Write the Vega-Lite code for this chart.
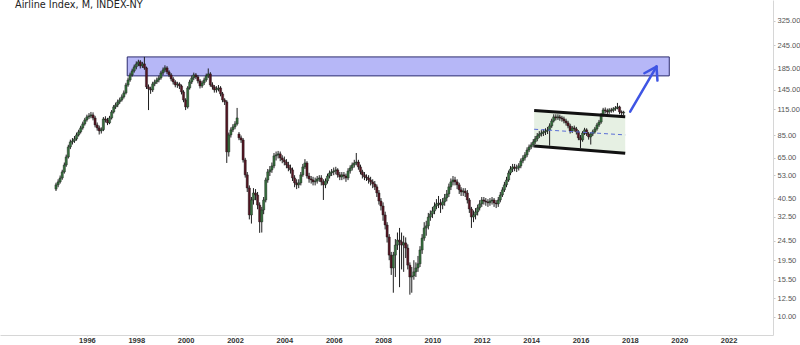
{
  "$schema": "https://vega.github.io/schema/vega-lite/v6.json",
  "width": 773,
  "height": 335,
  "autosize": {"type": "none"},
  "padding": {"left": 0, "top": 0, "right": 27, "bottom": 10},
  "background": "#ffffff",
  "view": {"stroke": null},
  "title": {"text": "Airline Index, M, INDEX-NY", "anchor": "start", "frame": "group", "offset": -10, "dx": 15, "font": "DejaVu Sans", "fontSize": 9.7, "fontWeight": "normal", "color": "#222222"},
  "config": {
    "axis": {"grid": false, "title": null, "domainColor": "#d6d6d6", "tickColor": "#c8c8c8", "labelFont": "Liberation Sans"}
  },
  "datasets": {
    "zone": [{"x1": "1997-08-20", "x2": "2019-08-07", "y1": 170.4, "y2": 213.0}],
    "channel": [{"t": "2014-02-14", "lo": 74.8, "hi": 113.3}, {"t": "2017-10-24", "lo": 68.6, "hi": 105.5}],
    "segments": [
      {"seg": "top", "xa": "2014-02-14", "xb": "2017-10-24", "ya": 113.3, "yb": 105.5},
      {"seg": "bottom", "xa": "2014-02-14", "xb": "2017-10-24", "ya": 74.8, "yb": 68.6},
      {"seg": "mid", "xa": "2014-02-14", "xb": "2017-10-24", "ya": 91.0, "yb": 85.1},
      {"seg": "arrow", "xa": "2018-01-05", "xb": "2019-01-30", "ya": 111.9, "yb": 190.1},
      {"seg": "arrow", "xa": "2019-01-30", "xb": "2018-08-03", "ya": 190.1, "yb": 175.8},
      {"seg": "arrow", "xa": "2019-01-30", "xb": "2019-02-13", "ya": 190.1, "yb": 161.2}
    ],
    "candles": [
      {"t":"1994-10-01","o":45.0,"h":48.5,"l":44.0,"c":47.3},
      {"t":"1994-11-01","o":47.3,"h":50.5,"l":46.0,"c":49.0},
      {"t":"1994-12-01","o":49.0,"h":52.8,"l":48.0,"c":51.3},
      {"t":"1995-01-01","o":51.3,"h":56.5,"l":50.2,"c":55.1},
      {"t":"1995-02-01","o":55.1,"h":61.5,"l":54.0,"c":59.8},
      {"t":"1995-03-01","o":59.8,"h":67.5,"l":58.5,"c":65.7},
      {"t":"1995-04-01","o":65.7,"h":75.8,"l":64.5,"c":73.9},
      {"t":"1995-05-01","o":73.9,"h":80.5,"l":72.0,"c":78.4},
      {"t":"1995-06-01","o":78.4,"h":82.0,"l":76.0,"c":79.3},
      {"t":"1995-07-01","o":79.3,"h":84.0,"l":77.5,"c":81.2},
      {"t":"1995-08-01","o":81.2,"h":87.5,"l":79.5,"c":85.1},
      {"t":"1995-09-01","o":85.1,"h":90.5,"l":83.5,"c":88.2},
      {"t":"1995-10-01","o":88.2,"h":94.8,"l":86.5,"c":92.4},
      {"t":"1995-11-01","o":92.4,"h":99.5,"l":90.5,"c":96.9},
      {"t":"1995-12-01","o":96.9,"h":104.0,"l":95.0,"c":101.5},
      {"t":"1996-01-01","o":101.5,"h":108.0,"l":99.5,"c":105.2},
      {"t":"1996-02-01","o":105.2,"h":110.0,"l":102.5,"c":106.4},
      {"t":"1996-03-01","o":106.4,"h":111.5,"l":103.5,"c":107.7},
      {"t":"1996-04-01","o":107.7,"h":111.0,"l":101.0,"c":103.9},
      {"t":"1996-05-01","o":103.9,"h":106.5,"l":93.0,"c":95.7},
      {"t":"1996-06-01","o":95.7,"h":98.5,"l":89.5,"c":92.4},
      {"t":"1996-07-01","o":92.4,"h":95.0,"l":85.5,"c":89.2},
      {"t":"1996-08-01","o":89.2,"h":93.0,"l":86.5,"c":90.5},
      {"t":"1996-09-01","o":90.5,"h":105.0,"l":89.0,"c":102.7},
      {"t":"1996-10-01","o":102.7,"h":106.0,"l":98.5,"c":101.5},
      {"t":"1996-11-01","o":101.5,"h":104.0,"l":95.5,"c":98.0},
      {"t":"1996-12-01","o":98.0,"h":106.5,"l":96.5,"c":103.9},
      {"t":"1997-01-01","o":103.9,"h":114.0,"l":102.0,"c":111.5},
      {"t":"1997-02-01","o":111.5,"h":121.0,"l":109.5,"c":118.3},
      {"t":"1997-03-01","o":118.3,"h":124.5,"l":115.5,"c":121.1},
      {"t":"1997-04-01","o":121.1,"h":129.0,"l":118.0,"c":125.5},
      {"t":"1997-05-01","o":125.5,"h":132.0,"l":122.5,"c":128.4},
      {"t":"1997-06-01","o":128.4,"h":137.0,"l":126.0,"c":133.1},
      {"t":"1997-07-01","o":133.1,"h":143.5,"l":130.5,"c":139.5},
      {"t":"1997-08-01","o":139.5,"h":157.0,"l":137.0,"c":153.2},
      {"t":"1997-09-01","o":153.2,"h":167.0,"l":150.0,"c":162.5},
      {"t":"1997-10-01","o":162.5,"h":177.0,"l":159.0,"c":172.4},
      {"t":"1997-11-01","o":172.4,"h":185.5,"l":169.0,"c":180.7},
      {"t":"1997-12-01","o":180.7,"h":194.5,"l":177.0,"c":189.4},
      {"t":"1998-01-01","o":189.4,"h":202.0,"l":184.0,"c":196.2},
      {"t":"1998-02-01","o":196.2,"h":206.0,"l":191.0,"c":200.9},
      {"t":"1998-03-01","o":200.9,"h":205.0,"l":186.0,"c":191.6},
      {"t":"1998-04-01","o":191.6,"h":201.0,"l":187.0,"c":196.2},
      {"t":"1998-05-01","o":196.2,"h":213.0,"l":183.0,"c":187.2},
      {"t":"1998-06-01","o":187.2,"h":190.0,"l":146.0,"c":149.7},
      {"t":"1998-07-01","o":149.7,"h":154.0,"l":114.0,"c":146.2},
      {"t":"1998-08-01","o":146.2,"h":150.0,"l":138.0,"c":144.5},
      {"t":"1998-09-01","o":144.5,"h":159.0,"l":141.0,"c":155.1},
      {"t":"1998-10-01","o":155.1,"h":163.0,"l":151.0,"c":158.7},
      {"t":"1998-11-01","o":158.7,"h":167.0,"l":155.0,"c":162.5},
      {"t":"1998-12-01","o":162.5,"h":171.0,"l":158.0,"c":166.4},
      {"t":"1999-01-01","o":166.4,"h":181.0,"l":163.0,"c":176.5},
      {"t":"1999-02-01","o":176.5,"h":188.0,"l":172.0,"c":182.8},
      {"t":"1999-03-01","o":182.8,"h":193.0,"l":178.0,"c":187.2},
      {"t":"1999-04-01","o":187.2,"h":191.0,"l":174.0,"c":178.6},
      {"t":"1999-05-01","o":178.6,"h":182.0,"l":168.0,"c":172.4},
      {"t":"1999-06-01","o":172.4,"h":176.0,"l":160.0,"c":164.4},
      {"t":"1999-07-01","o":164.4,"h":168.0,"l":154.0,"c":158.7},
      {"t":"1999-08-01","o":158.7,"h":162.0,"l":149.0,"c":153.2},
      {"t":"1999-09-01","o":153.2,"h":159.0,"l":148.0,"c":155.0},
      {"t":"1999-10-01","o":155.0,"h":158.0,"l":146.0,"c":151.4},
      {"t":"1999-11-01","o":151.4,"h":154.0,"l":137.0,"c":141.1},
      {"t":"1999-12-01","o":141.1,"h":144.0,"l":125.0,"c":128.4},
      {"t":"2000-01-01","o":128.4,"h":131.0,"l":114.0,"c":118.3},
      {"t":"2000-02-01","o":118.3,"h":151.0,"l":116.0,"c":147.9},
      {"t":"2000-03-01","o":147.9,"h":163.0,"l":145.0,"c":158.7},
      {"t":"2000-04-01","o":158.7,"h":171.0,"l":155.0,"c":166.4},
      {"t":"2000-05-01","o":166.4,"h":177.0,"l":162.0,"c":172.4},
      {"t":"2000-06-01","o":172.4,"h":176.0,"l":164.0,"c":168.4},
      {"t":"2000-07-01","o":168.4,"h":172.0,"l":156.0,"c":160.6},
      {"t":"2000-08-01","o":160.6,"h":164.0,"l":147.0,"c":151.4},
      {"t":"2000-09-01","o":151.4,"h":161.0,"l":148.0,"c":156.9},
      {"t":"2000-10-01","o":156.9,"h":167.0,"l":153.0,"c":162.5},
      {"t":"2000-11-01","o":162.5,"h":175.0,"l":159.0,"c":170.4},
      {"t":"2000-12-01","o":170.4,"h":186.0,"l":166.0,"c":174.4},
      {"t":"2001-01-01","o":174.4,"h":178.0,"l":150.0,"c":153.2},
      {"t":"2001-02-01","o":153.2,"h":158.0,"l":145.0,"c":149.7},
      {"t":"2001-03-01","o":149.7,"h":153.0,"l":140.0,"c":144.5},
      {"t":"2001-04-01","o":144.5,"h":151.0,"l":140.0,"c":146.2},
      {"t":"2001-05-01","o":146.2,"h":153.0,"l":142.0,"c":147.9},
      {"t":"2001-06-01","o":147.9,"h":151.0,"l":134.0,"c":137.9},
      {"t":"2001-07-01","o":137.9,"h":141.0,"l":125.0,"c":128.4},
      {"t":"2001-08-01","o":128.4,"h":131.0,"l":121.0,"c":125.5},
      {"t":"2001-09-01","o":125.5,"h":128.0,"l":61.2,"c":69.7},
      {"t":"2001-10-01","o":69.7,"h":87.5,"l":66.0,"c":85.1},
      {"t":"2001-11-01","o":85.1,"h":93.0,"l":82.5,"c":90.3},
      {"t":"2001-12-01","o":90.3,"h":96.5,"l":88.0,"c":93.5},
      {"t":"2002-01-01","o":93.5,"h":100.0,"l":91.0,"c":96.9},
      {"t":"2002-02-01","o":96.9,"h":116.9,"l":95.0,"c":103.9},
      {"t":"2002-03-01","o":86.0,"h":88.0,"l":80.0,"c":82.2},
      {"t":"2002-04-01","o":82.2,"h":84.5,"l":77.5,"c":80.2},
      {"t":"2002-05-01","o":80.2,"h":82.0,"l":61.5,"c":63.4},
      {"t":"2002-06-01","o":63.4,"h":65.0,"l":51.5,"c":53.2},
      {"t":"2002-07-01","o":53.2,"h":55.0,"l":43.5,"c":45.6},
      {"t":"2002-08-01","o":45.6,"h":47.0,"l":31.5,"c":33.2},
      {"t":"2002-09-01","o":33.2,"h":41.0,"l":30.0,"c":39.6},
      {"t":"2002-10-01","o":39.6,"h":45.5,"l":37.5,"c":43.0},
      {"t":"2002-11-01","o":43.0,"h":45.0,"l":39.5,"c":42.0},
      {"t":"2002-12-01","o":42.0,"h":43.5,"l":35.5,"c":37.3},
      {"t":"2003-01-01","o":37.3,"h":38.5,"l":26.9,"c":30.6},
      {"t":"2003-02-01","o":30.6,"h":36.5,"l":27.0,"c":35.2},
      {"t":"2003-03-01","o":35.2,"h":41.0,"l":33.5,"c":39.6},
      {"t":"2003-04-01","o":39.6,"h":51.5,"l":38.5,"c":50.1},
      {"t":"2003-05-01","o":50.1,"h":57.0,"l":48.5,"c":55.1},
      {"t":"2003-06-01","o":55.1,"h":59.0,"l":52.5,"c":56.4},
      {"t":"2003-07-01","o":56.4,"h":61.5,"l":54.5,"c":59.1},
      {"t":"2003-08-01","o":59.1,"h":68.8,"l":57.5,"c":66.5},
      {"t":"2003-09-01","o":66.5,"h":70.0,"l":63.0,"c":67.3},
      {"t":"2003-10-01","o":67.3,"h":70.5,"l":64.5,"c":68.1},
      {"t":"2003-11-01","o":68.1,"h":70.0,"l":62.5,"c":64.9},
      {"t":"2003-12-01","o":64.9,"h":67.0,"l":61.0,"c":63.4},
      {"t":"2004-01-01","o":63.4,"h":66.0,"l":59.5,"c":61.9},
      {"t":"2004-02-01","o":61.9,"h":64.0,"l":57.5,"c":59.8},
      {"t":"2004-03-01","o":59.8,"h":62.0,"l":55.5,"c":57.7},
      {"t":"2004-04-01","o":57.7,"h":60.0,"l":54.0,"c":56.4},
      {"t":"2004-05-01","o":56.4,"h":58.0,"l":49.5,"c":51.3},
      {"t":"2004-06-01","o":51.3,"h":53.0,"l":46.0,"c":48.4},
      {"t":"2004-07-01","o":48.4,"h":50.5,"l":45.0,"c":47.3},
      {"t":"2004-08-01","o":47.3,"h":50.5,"l":45.5,"c":48.4},
      {"t":"2004-09-01","o":48.4,"h":55.0,"l":47.0,"c":53.2},
      {"t":"2004-10-01","o":53.2,"h":60.5,"l":52.0,"c":58.4},
      {"t":"2004-11-01","o":58.4,"h":64.0,"l":57.0,"c":61.2},
      {"t":"2004-12-01","o":61.2,"h":62.5,"l":51.0,"c":52.5},
      {"t":"2005-01-01","o":52.5,"h":54.5,"l":48.5,"c":50.7},
      {"t":"2005-02-01","o":50.7,"h":52.5,"l":48.0,"c":50.1},
      {"t":"2005-03-01","o":50.1,"h":52.0,"l":47.0,"c":49.0},
      {"t":"2005-04-01","o":49.0,"h":51.5,"l":47.0,"c":49.5},
      {"t":"2005-05-01","o":49.5,"h":52.5,"l":48.0,"c":50.7},
      {"t":"2005-06-01","o":50.7,"h":53.0,"l":49.0,"c":51.3},
      {"t":"2005-07-01","o":51.3,"h":53.0,"l":47.0,"c":49.0},
      {"t":"2005-08-01","o":49.0,"h":50.5,"l":39.6,"c":47.3},
      {"t":"2005-09-01","o":47.3,"h":51.0,"l":45.5,"c":49.5},
      {"t":"2005-10-01","o":49.5,"h":54.0,"l":48.0,"c":52.5},
      {"t":"2005-11-01","o":52.5,"h":56.0,"l":51.0,"c":54.4},
      {"t":"2005-12-01","o":54.4,"h":57.0,"l":52.5,"c":55.1},
      {"t":"2006-01-01","o":55.1,"h":58.0,"l":53.0,"c":55.7},
      {"t":"2006-02-01","o":55.7,"h":58.5,"l":53.5,"c":56.4},
      {"t":"2006-03-01","o":56.4,"h":57.5,"l":51.5,"c":53.2},
      {"t":"2006-04-01","o":53.2,"h":55.0,"l":50.0,"c":51.9},
      {"t":"2006-05-01","o":51.9,"h":55.0,"l":50.0,"c":53.2},
      {"t":"2006-06-01","o":53.2,"h":55.0,"l":50.5,"c":52.5},
      {"t":"2006-07-01","o":52.5,"h":54.0,"l":49.0,"c":51.3},
      {"t":"2006-08-01","o":51.3,"h":57.5,"l":50.0,"c":55.7},
      {"t":"2006-09-01","o":55.7,"h":59.5,"l":54.0,"c":57.7},
      {"t":"2006-10-01","o":57.7,"h":61.5,"l":56.0,"c":59.8},
      {"t":"2006-11-01","o":59.8,"h":63.5,"l":58.0,"c":61.2},
      {"t":"2006-12-01","o":61.2,"h":68.8,"l":59.5,"c":61.9},
      {"t":"2007-01-01","o":61.9,"h":63.5,"l":56.5,"c":58.4},
      {"t":"2007-02-01","o":58.4,"h":60.0,"l":53.5,"c":55.1},
      {"t":"2007-03-01","o":55.1,"h":56.5,"l":51.0,"c":53.2},
      {"t":"2007-04-01","o":53.2,"h":55.0,"l":50.0,"c":51.9},
      {"t":"2007-05-01","o":51.9,"h":53.5,"l":49.5,"c":51.3},
      {"t":"2007-06-01","o":51.3,"h":53.0,"l":48.0,"c":50.1},
      {"t":"2007-07-01","o":50.1,"h":52.0,"l":47.0,"c":49.0},
      {"t":"2007-08-01","o":49.0,"h":50.5,"l":45.5,"c":47.8},
      {"t":"2007-09-01","o":47.8,"h":49.5,"l":44.5,"c":46.2},
      {"t":"2007-10-01","o":46.2,"h":47.5,"l":41.0,"c":43.0},
      {"t":"2007-11-01","o":43.0,"h":44.5,"l":37.5,"c":39.1},
      {"t":"2007-12-01","o":39.1,"h":40.5,"l":35.0,"c":36.9},
      {"t":"2008-01-01","o":36.9,"h":38.5,"l":31.0,"c":33.2},
      {"t":"2008-02-01","o":33.2,"h":34.5,"l":28.0,"c":29.5},
      {"t":"2008-03-01","o":29.5,"h":30.5,"l":24.0,"c":25.6},
      {"t":"2008-04-01","o":25.6,"h":26.5,"l":19.5,"c":20.7},
      {"t":"2008-05-01","o":20.7,"h":21.5,"l":16.4,"c":17.8},
      {"t":"2008-06-01","o":17.8,"h":21.5,"l":13.3,"c":20.7},
      {"t":"2008-07-01","o":20.7,"h":25.0,"l":16.0,"c":23.3},
      {"t":"2008-08-01","o":23.3,"h":27.0,"l":22.0,"c":24.7},
      {"t":"2008-09-01","o":24.7,"h":28.5,"l":14.2,"c":24.2},
      {"t":"2008-10-01","o":24.2,"h":27.0,"l":17.5,"c":23.3},
      {"t":"2008-11-01","o":23.3,"h":26.0,"l":17.0,"c":23.9},
      {"t":"2008-12-01","o":23.9,"h":25.5,"l":20.0,"c":22.5},
      {"t":"2009-01-01","o":22.5,"h":23.5,"l":17.5,"c":18.4},
      {"t":"2009-02-01","o":18.4,"h":19.0,"l":13.0,"c":16.0},
      {"t":"2009-03-01","o":16.0,"h":18.0,"l":13.3,"c":16.2},
      {"t":"2009-04-01","o":16.2,"h":19.5,"l":15.5,"c":17.0},
      {"t":"2009-05-01","o":17.0,"h":19.0,"l":16.0,"c":17.8},
      {"t":"2009-06-01","o":17.8,"h":20.5,"l":17.0,"c":18.7},
      {"t":"2009-07-01","o":18.7,"h":23.0,"l":18.0,"c":22.0},
      {"t":"2009-08-01","o":22.0,"h":26.5,"l":21.0,"c":25.3},
      {"t":"2009-09-01","o":25.3,"h":30.5,"l":24.5,"c":28.5},
      {"t":"2009-10-01","o":28.5,"h":31.0,"l":26.0,"c":29.2},
      {"t":"2009-11-01","o":29.2,"h":34.0,"l":28.0,"c":32.4},
      {"t":"2009-12-01","o":32.4,"h":35.0,"l":31.0,"c":33.6},
      {"t":"2010-01-01","o":33.6,"h":36.5,"l":32.0,"c":34.8},
      {"t":"2010-02-01","o":34.8,"h":38.5,"l":33.5,"c":36.9},
      {"t":"2010-03-01","o":36.9,"h":40.0,"l":35.5,"c":37.8},
      {"t":"2010-04-01","o":37.8,"h":41.5,"l":36.0,"c":38.2},
      {"t":"2010-05-01","o":38.2,"h":40.0,"l":34.0,"c":37.3},
      {"t":"2010-06-01","o":37.3,"h":40.5,"l":35.5,"c":38.7},
      {"t":"2010-07-01","o":38.7,"h":42.5,"l":37.0,"c":40.6},
      {"t":"2010-08-01","o":40.6,"h":44.5,"l":39.0,"c":42.5},
      {"t":"2010-09-01","o":42.5,"h":48.0,"l":41.0,"c":46.2},
      {"t":"2010-10-01","o":46.2,"h":51.0,"l":44.5,"c":49.0},
      {"t":"2010-11-01","o":49.0,"h":52.5,"l":47.0,"c":50.1},
      {"t":"2010-12-01","o":50.1,"h":52.0,"l":47.0,"c":49.0},
      {"t":"2011-01-01","o":49.0,"h":50.5,"l":45.0,"c":47.3},
      {"t":"2011-02-01","o":47.3,"h":48.5,"l":42.5,"c":44.6},
      {"t":"2011-03-01","o":44.6,"h":46.0,"l":41.5,"c":43.5},
      {"t":"2011-04-01","o":43.5,"h":45.5,"l":41.5,"c":44.0},
      {"t":"2011-05-01","o":44.0,"h":45.5,"l":41.0,"c":43.0},
      {"t":"2011-06-01","o":43.0,"h":44.5,"l":38.0,"c":39.6},
      {"t":"2011-07-01","o":39.6,"h":40.5,"l":34.0,"c":35.6},
      {"t":"2011-08-01","o":35.6,"h":36.5,"l":28.5,"c":32.4},
      {"t":"2011-09-01","o":32.4,"h":35.0,"l":30.5,"c":33.2},
      {"t":"2011-10-01","o":33.2,"h":36.0,"l":31.5,"c":34.4},
      {"t":"2011-11-01","o":34.4,"h":37.5,"l":33.0,"c":36.1},
      {"t":"2011-12-01","o":36.1,"h":39.5,"l":35.0,"c":37.8},
      {"t":"2012-01-01","o":37.8,"h":41.0,"l":36.5,"c":39.6},
      {"t":"2012-02-01","o":39.6,"h":41.0,"l":37.5,"c":39.1},
      {"t":"2012-03-01","o":39.1,"h":40.5,"l":37.0,"c":38.7},
      {"t":"2012-04-01","o":38.7,"h":40.0,"l":36.5,"c":38.3},
      {"t":"2012-05-01","o":38.3,"h":40.5,"l":37.0,"c":39.1},
      {"t":"2012-06-01","o":39.1,"h":41.0,"l":37.5,"c":39.6},
      {"t":"2012-07-01","o":39.6,"h":40.5,"l":36.5,"c":38.2},
      {"t":"2012-08-01","o":38.2,"h":39.5,"l":36.0,"c":37.8},
      {"t":"2012-09-01","o":37.8,"h":41.0,"l":36.5,"c":39.6},
      {"t":"2012-10-01","o":39.6,"h":43.5,"l":38.5,"c":42.0},
      {"t":"2012-11-01","o":42.0,"h":46.0,"l":41.0,"c":44.6},
      {"t":"2012-12-01","o":44.6,"h":49.0,"l":43.5,"c":47.3},
      {"t":"2013-01-01","o":47.3,"h":52.0,"l":46.0,"c":50.1},
      {"t":"2013-02-01","o":50.1,"h":56.0,"l":49.0,"c":54.4},
      {"t":"2013-03-01","o":54.4,"h":59.0,"l":53.0,"c":57.0},
      {"t":"2013-04-01","o":57.0,"h":60.5,"l":55.0,"c":58.4},
      {"t":"2013-05-01","o":58.4,"h":60.5,"l":55.5,"c":57.5},
      {"t":"2013-06-01","o":57.5,"h":60.0,"l":55.0,"c":57.7},
      {"t":"2013-07-01","o":57.7,"h":61.0,"l":56.0,"c":59.1},
      {"t":"2013-08-01","o":59.1,"h":64.5,"l":57.5,"c":62.7},
      {"t":"2013-09-01","o":62.7,"h":67.0,"l":61.0,"c":64.9},
      {"t":"2013-10-01","o":64.9,"h":69.5,"l":63.0,"c":67.3},
      {"t":"2013-11-01","o":67.3,"h":73.5,"l":65.5,"c":71.3},
      {"t":"2013-12-01","o":71.3,"h":76.0,"l":69.5,"c":73.9},
      {"t":"2014-01-01","o":73.9,"h":78.0,"l":72.0,"c":75.7},
      {"t":"2014-02-01","o":75.7,"h":81.0,"l":73.5,"c":78.4},
      {"t":"2014-03-01","o":78.4,"h":84.0,"l":76.5,"c":81.2},
      {"t":"2014-04-01","o":81.2,"h":87.0,"l":79.0,"c":84.1},
      {"t":"2014-05-01","o":84.1,"h":89.0,"l":82.0,"c":86.1},
      {"t":"2014-06-01","o":86.1,"h":90.0,"l":83.5,"c":87.1},
      {"t":"2014-07-01","o":87.1,"h":91.0,"l":84.0,"c":88.2},
      {"t":"2014-08-01","o":88.2,"h":92.0,"l":85.0,"c":89.2},
      {"t":"2014-09-01","o":89.2,"h":93.5,"l":86.0,"c":90.3},
      {"t":"2014-10-01","o":90.3,"h":97.5,"l":75.0,"c":94.6},
      {"t":"2014-11-01","o":94.6,"h":103.0,"l":92.5,"c":100.3},
      {"t":"2014-12-01","o":100.3,"h":108.5,"l":98.5,"c":105.2},
      {"t":"2015-01-01","o":105.2,"h":108.5,"l":101.0,"c":104.0},
      {"t":"2015-02-01","o":104.0,"h":108.5,"l":101.5,"c":105.2},
      {"t":"2015-03-01","o":105.2,"h":108.0,"l":100.5,"c":103.9},
      {"t":"2015-04-01","o":103.9,"h":106.5,"l":99.5,"c":102.7},
      {"t":"2015-05-01","o":102.7,"h":105.5,"l":97.5,"c":100.3},
      {"t":"2015-06-01","o":100.3,"h":103.0,"l":95.0,"c":98.0},
      {"t":"2015-07-01","o":98.0,"h":100.5,"l":92.0,"c":94.6},
      {"t":"2015-08-01","o":94.6,"h":97.0,"l":86.5,"c":89.2},
      {"t":"2015-09-01","o":89.2,"h":94.5,"l":87.0,"c":92.4},
      {"t":"2015-10-01","o":92.4,"h":95.0,"l":88.5,"c":91.3},
      {"t":"2015-11-01","o":91.3,"h":93.5,"l":85.5,"c":88.2},
      {"t":"2015-12-01","o":88.2,"h":90.0,"l":80.0,"c":82.2},
      {"t":"2016-01-01","o":82.2,"h":85.0,"l":73.0,"c":80.2},
      {"t":"2016-02-01","o":80.2,"h":89.0,"l":78.5,"c":87.1},
      {"t":"2016-03-01","o":87.1,"h":92.5,"l":85.0,"c":90.3},
      {"t":"2016-04-01","o":90.3,"h":92.0,"l":84.0,"c":86.1},
      {"t":"2016-05-01","o":86.1,"h":88.0,"l":80.5,"c":83.1},
      {"t":"2016-06-01","o":83.1,"h":88.0,"l":76.0,"c":86.1},
      {"t":"2016-07-01","o":86.1,"h":90.5,"l":84.0,"c":88.2},
      {"t":"2016-08-01","o":88.2,"h":93.5,"l":86.5,"c":91.3},
      {"t":"2016-09-01","o":91.3,"h":98.0,"l":89.5,"c":95.7},
      {"t":"2016-10-01","o":95.7,"h":101.5,"l":93.5,"c":99.0},
      {"t":"2016-11-01","o":99.0,"h":110.0,"l":97.0,"c":107.7},
      {"t":"2016-12-01","o":107.7,"h":117.0,"l":105.5,"c":114.2},
      {"t":"2017-01-01","o":114.2,"h":117.5,"l":109.5,"c":112.9},
      {"t":"2017-02-01","o":112.9,"h":116.0,"l":108.5,"c":111.5},
      {"t":"2017-03-01","o":111.5,"h":116.5,"l":109.0,"c":114.2},
      {"t":"2017-04-01","o":114.2,"h":117.0,"l":110.5,"c":113.5},
      {"t":"2017-05-01","o":113.5,"h":118.0,"l":111.0,"c":115.6},
      {"t":"2017-06-01","o":115.6,"h":119.5,"l":113.0,"c":116.9},
      {"t":"2017-07-01","o":116.9,"h":124.0,"l":115.0,"c":118.3},
      {"t":"2017-08-01","o":118.3,"h":120.0,"l":108.5,"c":111.5},
      {"t":"2017-09-01","o":111.5,"h":113.5,"l":106.5,"c":110.2},
      {"t":"2017-10-01","o":110.2,"h":113.0,"l":107.5,"c":111.0}
    ]
  },
  "layer": [
    {
      "data": {"name": "zone"},
      "mark": {"type": "rect", "fill": "#b6b7f7", "stroke": "#2c2c6e", "strokeWidth": 1},
      "encoding": {
        "x": {"field": "x1", "type": "temporal",
          "scale": {"type": "utc", "domain": [{"year": 1992, "month": 9, "date": 6, "utc": true}, {"year": 2023, "month": 8, "date": 7, "utc": true}], "nice": false},
          "axis": {"orient": "bottom", "format": "%Y", "formatType": "utc",
            "values": [{"year": 1996, "utc": true}, {"year": 1998, "utc": true}, {"year": 2000, "utc": true}, {"year": 2002, "utc": true}, {"year": 2004, "utc": true}, {"year": 2006, "utc": true}, {"year": 2008, "utc": true}, {"year": 2010, "utc": true}, {"year": 2012, "utc": true}, {"year": 2014, "utc": true}, {"year": 2016, "utc": true}, {"year": 2018, "utc": true}, {"year": 2020, "utc": true}, {"year": 2022, "utc": true}],
            "labelFontSize": 7.5, "labelFontWeight": "bold", "labelColor": "#333333", "tickSize": 1, "labelPadding": 0, "labelFlush": false, "labelOverlap": false}},
        "x2": {"field": "x2"},
        "y": {"field": "y1", "type": "quantitative",
          "scale": {"type": "log", "domain": [8.09, 416], "nice": false, "zero": false},
          "axis": {"orient": "right", "values": [10, 12.5, 15.5, 19.5, 24.5, 32.5, 40.5, 53, 65, 85, 115, 145, 185, 245, 325], "format": ".2f",
            "labelFontSize": 7.5, "labelColor": "#555555", "tickSize": 2, "labelPadding": 2, "labelFlush": false, "labelOverlap": false}},
        "y2": {"field": "y2"}
      }
    },
    {
      "data": {"name": "channel"},
      "mark": {"type": "area", "fill": "#e6f0e3", "opacity": 1},
      "encoding": {
        "x": {"field": "t", "type": "temporal"},
        "y": {"field": "lo", "type": "quantitative"},
        "y2": {"field": "hi"}
      }
    },
    {
      "data": {"name": "candles"},
      "encoding": {"x": {"field": "t", "type": "temporal"}},
      "layer": [
        {"mark": {"type": "rule", "color": "#1e1e1e", "strokeWidth": 1},
         "encoding": {"y": {"field": "l", "type": "quantitative"}, "y2": {"field": "h"}}},
        {"mark": {"type": "bar", "width": 2.2, "stroke": "#1a1a1a", "strokeWidth": 0.4},
         "encoding": {"y": {"field": "o", "type": "quantitative"}, "y2": {"field": "c"},
           "color": {"condition": {"test": "datum.c >= datum.o", "value": "#36703d"}, "value": "#551522"}}}
      ]
    },
    {
      "data": {"name": "segments"},
      "transform": [{"filter": "datum.seg === 'top' || datum.seg === 'bottom'"}],
      "mark": {"type": "rule", "color": "#111111", "strokeWidth": 3},
      "encoding": {
        "x": {"field": "xa", "type": "temporal"}, "x2": {"field": "xb"},
        "y": {"field": "ya", "type": "quantitative"}, "y2": {"field": "yb"}
      }
    },
    {
      "data": {"name": "segments"},
      "transform": [{"filter": "datum.seg === 'mid'"}],
      "mark": {"type": "rule", "color": "#5b6fd6", "strokeWidth": 1, "strokeDash": [4, 3]},
      "encoding": {
        "x": {"field": "xa", "type": "temporal"}, "x2": {"field": "xb"},
        "y": {"field": "ya", "type": "quantitative"}, "y2": {"field": "yb"}
      }
    },
    {
      "data": {"name": "segments"},
      "transform": [{"filter": "datum.seg === 'arrow'"}],
      "mark": {"type": "rule", "color": "#3f55e4", "strokeWidth": 2.5, "strokeCap": "round"},
      "encoding": {
        "x": {"field": "xa", "type": "temporal"}, "x2": {"field": "xb"},
        "y": {"field": "ya", "type": "quantitative"}, "y2": {"field": "yb"}
      }
    }
  ]
}
